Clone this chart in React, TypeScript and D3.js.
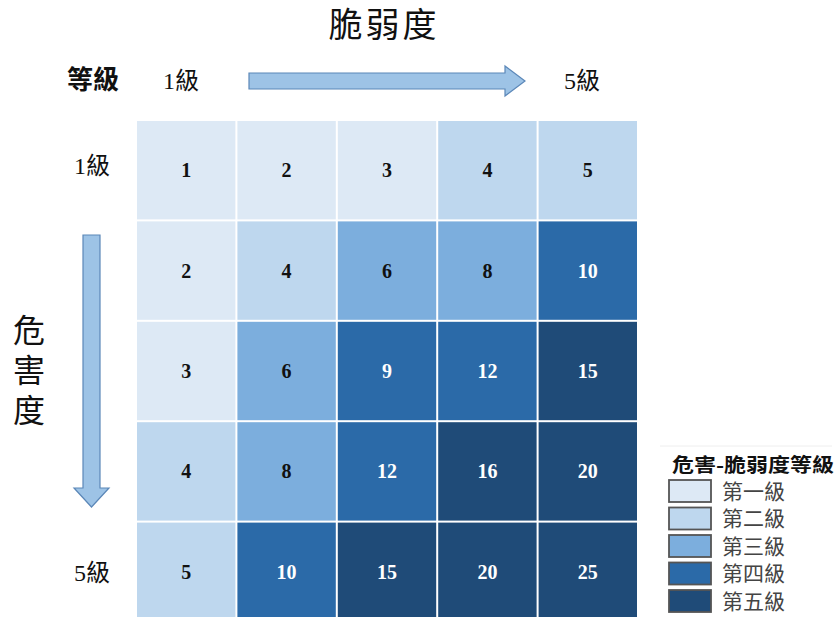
import * as d3 from 'd3'

document.body.style.margin = '0'

const hazardLevels = ['1', '2', '3', '4', '5']
const vulnLevels = ['1', '2', '3', '4', '5']
// rows = hazard (危害度), columns = vulnerability (脆弱度)
const riskValues = [
  [1, 2, 3, 4, 5],
  [2, 4, 6, 8, 10],
  [3, 6, 9, 12, 15],
  [4, 8, 12, 16, 20],
  [5, 10, 15, 20, 25],
]
const levelBreaks = [4, 6, 9, 15]
const levelNames = ['第一級', '第二級', '第三級', '第四級', '第五級']
const levelColors = ['#DDE9F5', '#BED7EE', '#7CAEDD', '#2B6AA8', '#1F4B78']

const SERIF = '"Times New Roman", "Liberation Serif", "Noto Sans CJK TC", serif'
const SANS = '"Noto Sans CJK TC", "Noto Sans", sans-serif'
const ARROW_FILL = '#9DC3E6'
const ARROW_STROKE = '#5B87B8'

export default function App() {
  const x = d3.scaleBand<string>().domain(vulnLevels).range([137, 637]).paddingInner(0.02)
  const y = d3.scaleBand<string>().domain(hazardLevels).range([121, 621]).paddingInner(0.02)
  const color = d3.scaleThreshold<number, string>().domain(levelBreaks).range(levelColors)
  const level = d3.scaleThreshold<number, number>().domain(levelBreaks).range([0, 1, 2, 3, 4])

  const legendY = d3.scaleBand<string>().domain(levelNames).range([480, 612]).paddingInner(0.2)

  return (
    <svg width={837} height={617} style={{ display: 'block', background: '#fff' }}>
      {/* Title */}
      <text x={384} y={37} textAnchor="middle" fontFamily={SERIF} fontSize={34} letterSpacing={3} fill="#111">
        脆弱度
      </text>

      {/* Top axis labels */}
      <text x={93} y={89} textAnchor="middle" fontFamily={SERIF} fontWeight="bold" fontSize={26} fill="#111">
        等級
      </text>
      <text x={181} y={89} textAnchor="middle" fontFamily={SERIF} fontSize={24} fill="#111">
        1級
      </text>
      <text x={582} y={89} textAnchor="middle" fontFamily={SERIF} fontSize={24} fill="#111">
        5級
      </text>
      <path
        d="M249,73 L505,73 L505,66 L525,81 L505,96 L505,89 L249,89 Z"
        fill={ARROW_FILL}
        stroke={ARROW_STROKE}
        strokeWidth={1.2}
      />

      {/* Left axis labels */}
      <text x={92} y={174} textAnchor="middle" fontFamily={SERIF} fontSize={24} fill="#111">
        1級
      </text>
      <text x={92} y={581} textAnchor="middle" fontFamily={SERIF} fontSize={24} fill="#111">
        5級
      </text>
      {['危', '害', '度'].map((ch, i) => (
        <text key={ch} x={29} y={342 + i * 40} textAnchor="middle" fontFamily={SERIF} fontSize={32} fill="#111">
          {ch}
        </text>
      ))}
      <path
        d="M83,235 L100,235 L100,488 L109,488 L91.5,507 L74,488 L83,488 Z"
        fill={ARROW_FILL}
        stroke={ARROW_STROKE}
        strokeWidth={1.2}
      />

      {/* Matrix */}
      {riskValues.map((row, ri) =>
        row.map((v, ci) => {
          const cx = x(vulnLevels[ci])!
          const cy = y(hazardLevels[ri])!
          const dark = level(v) >= 3
          return (
            <g key={`${ri}-${ci}`}>
              <rect x={cx} y={cy} width={x.bandwidth()} height={y.bandwidth()} fill={color(v)} />
              <text
                x={cx + x.bandwidth() / 2}
                y={cy + y.bandwidth() / 2 + 7}
                textAnchor="middle"
                fontFamily={SERIF}
                fontWeight="bold"
                fontSize={20}
                fill={dark ? '#fff' : '#111'}
              >
                {v}
              </text>
            </g>
          )
        })
      )}

      {/* Legend */}
      <line x1={660} x2={832} y1={446} y2={446} stroke="#eee" strokeWidth={1} />
      <text
        x={672}
        y={472}
        fontFamily={SANS}
        fontWeight="bold"
        fontSize={19}
        textLength={162}
        lengthAdjust="spacingAndGlyphs"
        fill="#111"
      >
        危害-脆弱度等級
      </text>
      {levelNames.map((name, i) => (
        <g key={name}>
          <rect
            x={669}
            y={legendY(name)!}
            width={42}
            height={legendY.bandwidth()}
            fill={levelColors[i]}
            stroke="#555"
            strokeWidth={1.8}
          />
          <text
            x={722}
            y={legendY(name)! + legendY.bandwidth() / 2 + 7.5}
            fontFamily={SANS}
            fontSize={21}
            fill="#444"
          >
            {name}
          </text>
        </g>
      ))}
    </svg>
  )
}
